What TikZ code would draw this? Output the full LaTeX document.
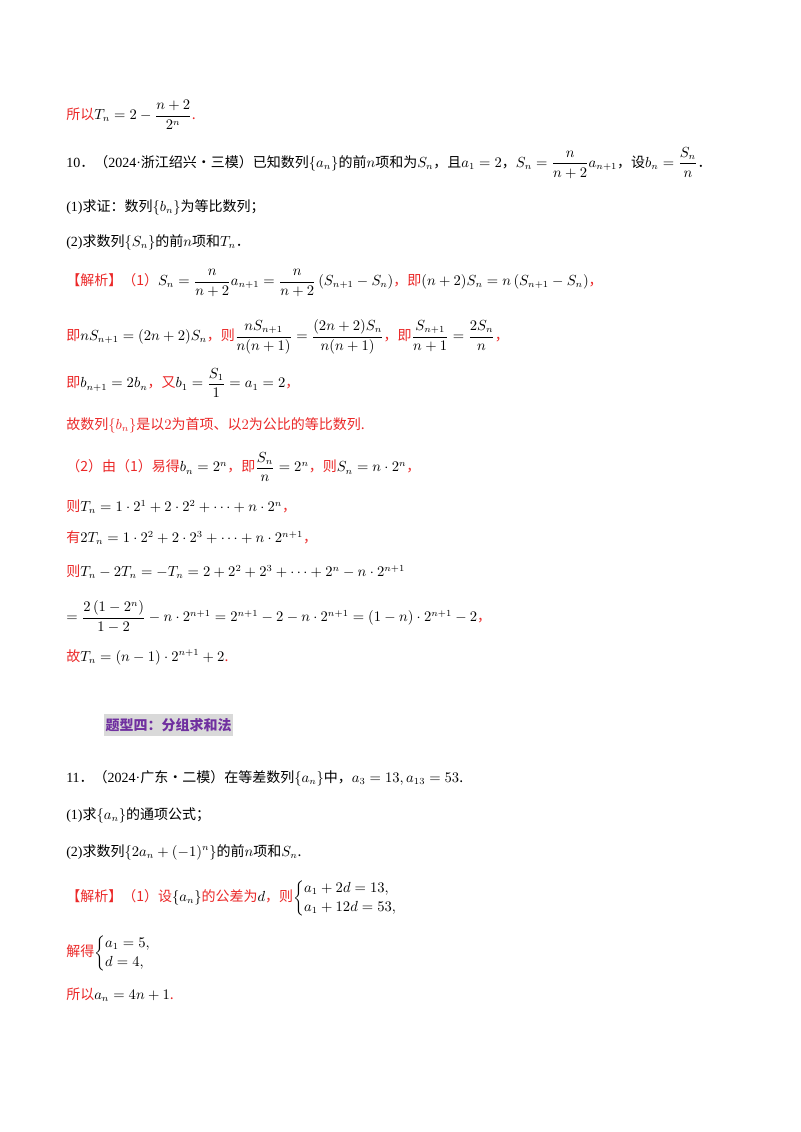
\documentclass[tikz,border=0pt]{standalone}
\usepackage{amsmath}
\usepackage{fontspec}
\setmainfont{Noto Sans CJK SC}
\newfontfamily\lt{Liberation Serif}
\definecolor{jred}{RGB}{235,40,40}
\definecolor{jpur}{RGB}{112,48,160}
\newcommand\R[1]{{\color{jred}#1}}
\begin{document}
\begin{tikzpicture}[x=0.75pt,y=-0.75pt,
  ln/.style={anchor=west,inner sep=0pt,font=\fontsize{10.5}{12}\selectfont}]
\useasboundingbox (0,0) rectangle (800,1132);
\fill[white] (0,0) rectangle (800,1132);
\node[ln] (l1) at (66,115) {\R{所以}$T_n=2-\dfrac{n+2}{2^n}$\R{.}};
\node[ln] (l2) at (66,163) {{\lt 10}．（{\lt 2024·}浙江绍兴·三模）已知数列$\{a_n\}$的前$n$项和为$S_n$，且$a_1=2$，$S_n=\dfrac{n}{n+2}a_{n+1}$，设$b_n=\dfrac{S_n}{n}$．};
\node[ln] (l3) at (66,207) {{\lt (1)}求证：数列$\{b_n\}$为等比数列；};
\node[ln] (l4) at (66,242) {{\lt (2)}求数列$\{S_n\}$的前$n$项和$T_n$．};
\node[ln] (l5) at (66,283) {\R{【解析】（1）}$S_n=\dfrac{n}{n+2}a_{n+1}=\dfrac{n}{n+2}\left(S_{n+1}-S_n\right)$\R{，即}$(n+2)S_n=n\left(S_{n+1}-S_n\right)$\R{，}};
\node[ln] (l6) at (66,337) {\R{即}$nS_{n+1}=(2n+2)S_n$\R{，则}$\dfrac{nS_{n+1}}{n(n+1)}=\dfrac{(2n+2)S_n}{n(n+1)}$\R{，即}$\dfrac{S_{n+1}}{n+1}=\dfrac{2S_n}{n}$\R{，}};
\node[ln] (l7) at (66,383) {\R{即}$b_{n+1}=2b_n$\R{，又}$b_1=\dfrac{S_1}{1}=a_1=2$\R{，}};
\node[ln] (l8) at (66,425) {\R{故数列$\{b_n\}$是以$2$为首项、以$2$为公比的等比数列.}};
\node[ln] (l9) at (66,467) {\R{（2）由（1）易得}$b_n=2^n$\R{，即}$\dfrac{S_n}{n}=2^n$\R{，则}$S_n=n\cdot2^n$\R{，}};
\node[ln] (l10) at (66,507) {\R{则}$T_n=1\cdot2^1+2\cdot2^2+\cdots+n\cdot2^n$\R{，}};
\node[ln] (l11) at (66,538) {\R{有}$2T_n=1\cdot2^2+2\cdot2^3+\cdots+n\cdot2^{n+1}$\R{，}};
\node[ln] (l12) at (66,572) {\R{则}$T_n-2T_n=-T_n=2+2^2+2^3+\cdots+2^n-n\cdot2^{n+1}$};
\node[ln] (l13) at (66,617) {$=\dfrac{2\left(1-2^n\right)}{1-2}-n\cdot2^{n+1}=2^{n+1}-2-n\cdot2^{n+1}=(1-n)\cdot2^{n+1}-2$\R{，}};
\node[ln] (l14) at (66,657) {\R{故}$T_n=(n-1)\cdot2^{n+1}+2$\R{.}};
\node[anchor=west,fill=black!15,inner xsep=1pt,inner ysep=3pt,text=jpur,font=\fontsize{10.5}{12}\selectfont\bfseries] (h) at (104,725) {题型四：分组求和法};
\node[ln] (l15) at (66,778) {{\lt 11}．（{\lt 2024·}广东·二模）在等差数列$\{a_n\}$中，$a_3=13,a_{13}=53$.};
\node[ln] (l16) at (66,815) {{\lt (1)}求$\{a_n\}$的通项公式；};
\node[ln] (l17) at (66,852) {{\lt (2)}求数列$\left\{2a_n+(-1)^n\right\}$的前$n$项和$S_n$.};
\node[ln] (l18) at (66,898) {\R{【解析】（1）设}$\{a_n\}$\R{的公差为}$d$\R{，则}$\begin{cases}a_1+2d=13,\\ a_1+12d=53,\end{cases}$};
\node[ln] (l19) at (66,953) {\R{解得}$\begin{cases}a_1=5,\\ d=4,\end{cases}$};
\node[ln] (l20) at (66,995) {\R{所以}$a_n=4n+1$\R{.}};
\end{tikzpicture}
\end{document}
